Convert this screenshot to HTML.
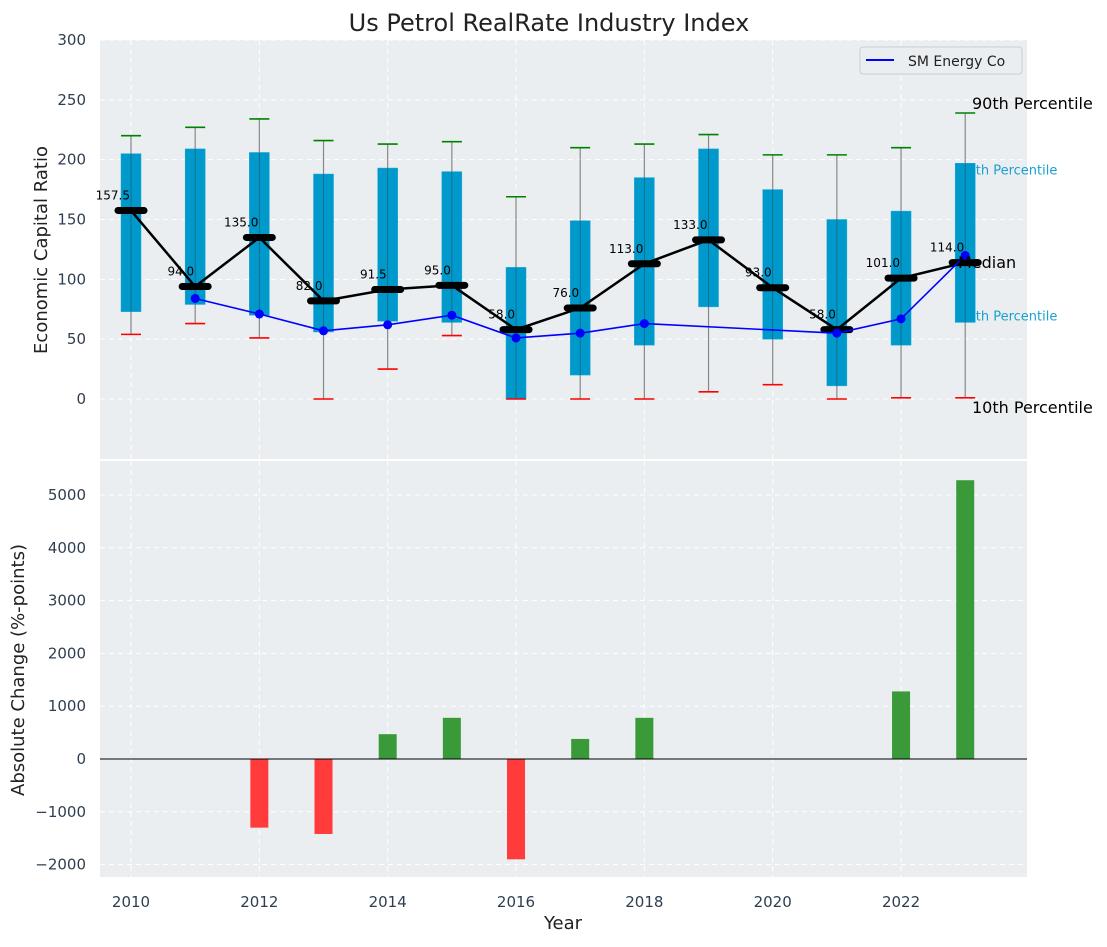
<!DOCTYPE html>
<html><head><meta charset="utf-8"><style>
body{margin:0;background:#fff;font-family:"Liberation Sans","DejaVu Sans",sans-serif;}
text{font-family:"DejaVu Sans","Liberation Sans",sans-serif;}
</style></head><body>
<svg id="chart" width="1107" height="942" xmlns="http://www.w3.org/2000/svg"></svg>
<script>
const years=[2010,2011,2012,2013,2014,2015,2016,2017,2018,2019,2020,2021,2022,2023];
const q3=[205,209,206,188,193,190,110,149,185,209,175,150,157,197];
const q1=[73,79,70,56,65,64,0,20,45,77,50,11,45,64];
const p90=[220,227,234,216,213,215,169,210,213,221,204,204,210,239];
const p10=[54,63,51,0,25,53,0,0,0,6,12,0,1,1];
const medians=[157.5,94,135,82,91.5,95,58,76,113,133,93,58,101,114];
const company=[null,84,71,57,62,70,51,55,63,null,null,55,67,120];
const changes=[0,0,-1300,-1420,470,780,-1900,380,780,0,0,0,1280,5280];
const topTicks=[0,50,100,150,200,250,300];
const botTicks=[-2000,-1000,0,1000,2000,3000,4000,5000];
const xTicks=[2010,2012,2014,2016,2018,2020,2022];

const NS="http://www.w3.org/2000/svg";
const svg=document.getElementById('chart');
function el(tag,attrs,parent){const e=document.createElementNS(NS,tag);for(const k in attrs)e.setAttribute(k,attrs[k]);(parent||svg).appendChild(e);return e;}
const X0=100,X1=1027;
const xs=y=>131+(y-2010)*64.17;
const yT=v=>399-v*1.1967;
const yB=v=>759-v*0.0528;
const TY0=40,TY1=459,BY0=461,BY1=877;

let p=el('rect',{x:X0,y:TY0,width:X1-X0,height:TY1-TY0,fill:'#eaeef0'});

p=el('rect',{x:X0,y:BY0,width:X1-X0,height:BY1-BY0,fill:'#eaeef0'});


topTicks.forEach(t=>{const y=yT(t);
 let g=el('line',{x1:X0,x2:X1,y1:y,y2:y,stroke:'#fff','stroke-dasharray':'5,4','stroke-width':1});
 
 let tx=el('text',{x:86,y:y+5,'text-anchor':'end','font-size':15,fill:'#2e3e50'});tx.textContent=t;
 });
botTicks.forEach(t=>{const y=yB(t);
 let g=el('line',{x1:X0,x2:X1,y1:y,y2:y,stroke:'#fff','stroke-dasharray':'5,4','stroke-width':1});
 
 let tx=el('text',{x:86,y:y+5,'text-anchor':'end','font-size':15,fill:'#2e3e50'});tx.textContent=(t<0?'\u2212'+(-t):t);
 });
xTicks.forEach(t=>{const x=xs(t);
 [[TY0,TY1],[BY0,BY1]].forEach(r=>{let g=el('line',{x1:x,x2:x,y1:r[0],y2:r[1],stroke:'#fff','stroke-dasharray':'5,4','stroke-width':1});
 });
 let tx=el('text',{x:x,y:907,'text-anchor':'middle','font-size':15,fill:'#2e3e50'});tx.textContent=t;
 });

const lx=xs(2023);
function ann(txt,x,y,size,color,name){let t=el('text',{x:x,y:y,'font-size':size,fill:color});t.textContent=txt;
 }
ann('75th Percentile',lx-6,yT(q3[13])+11,13,'#1a9fd0','annotation-75th');
ann('25th Percentile',lx-6,yT(q1[13])-2,13,'#1a9fd0','annotation-25th');

years.forEach((yr,i)=>{const x=xs(yr);
 let w=el('line',{x1:x,x2:x,y1:yT(p10[i]),y2:yT(p90[i]),stroke:'#888','stroke-width':1.2});
 
 let b=el('rect',{x:x-10,y:yT(q3[i]),width:20,height:yT(q1[i])-yT(q3[i]),fill:'#0099cc',stroke:'#20a8d8','stroke-width':0.5});
 
 let w2=el('line',{x1:x,x2:x,y1:yT(q1[i]),y2:yT(q3[i]),stroke:'#333','stroke-width':0.8,opacity:0.5});
 
 let c1=el('line',{x1:x-10,x2:x+10,y1:yT(p90[i]),y2:yT(p90[i]),stroke:'green','stroke-width':1.6});
 
 let c2=el('line',{x1:x-10,x2:x+10,y1:yT(p10[i]),y2:yT(p10[i]),stroke:'red','stroke-width':1.6});
 
});
let ml=el('polyline',{points:years.map((y,i)=>xs(y)+','+yT(medians[i])).join(' '),fill:'none',stroke:'#000','stroke-width':2.5});

years.forEach((yr,i)=>{const x=xs(yr),y=yT(medians[i]);
 let m=el('line',{x1:x-13,x2:x+13,y1:y,y2:y,stroke:'#000','stroke-width':7,'stroke-linecap':'round'});
 
 let t=el('text',{x:x-1,y:y-11,'text-anchor':'end','font-size':12,fill:'#000'});t.textContent=medians[i].toFixed(1);
 });
const pts=[];years.forEach((y,i)=>{if(company[i]!==null)pts.push([xs(y),yT(company[i])]);});
let cl=el('polyline',{points:pts.map(p=>p.join(',')).join(' '),fill:'none',stroke:'#0000ff','stroke-width':1.6});

pts.forEach(p=>{let c=el('circle',{cx:p[0],cy:p[1],r:4.5,fill:'#0000ff'});
 });

ann('90th Percentile',972,109,16,'#000','annotation-90th');
ann('Median',958,268,16,'#000','annotation-median');
ann('10th Percentile',972,413,16,'#000','annotation-10th');

let lg=el('g',{});
el('rect',{x:860,y:47,width:162,height:27,rx:3,fill:'#eaeef0',stroke:'#ccc'},lg);
el('line',{x1:866,x2:894,y1:60,y2:60,stroke:'#0000ff','stroke-width':2},lg);
let lt=el('text',{x:908,y:66,'font-size':14,fill:'#222'},lg);lt.textContent='SM Energy Co';


years.forEach((yr,i)=>{const v=changes[i];if(v===0)return;const x=xs(yr);
 let b=el('rect',{x:x-9,y:Math.min(yB(v),yB(0)),width:18,height:Math.abs(yB(v)-yB(0)),fill:v>0?'#3a9a3a':'#ff3b3b'});
 });
let zl=el('line',{x1:X0,x2:X1,y1:yB(0),y2:yB(0),stroke:'#000','stroke-width':1});


let tt=el('text',{x:549,y:31,'text-anchor':'middle','font-size':24,fill:'#222'});tt.textContent='Us Petrol RealRate Industry Index';

let yl=el('text',{x:0,y:0,'text-anchor':'middle','font-size':18,fill:'#222',transform:'translate(47,250) rotate(-90)'});yl.textContent='Economic Capital Ratio';

let yl2=el('text',{x:0,y:0,'text-anchor':'middle','font-size':18,fill:'#222',transform:'translate(24,670) rotate(-90)'});yl2.textContent='Absolute Change (%-points)';

let xl=el('text',{x:563,y:929,'text-anchor':'middle','font-size':18,fill:'#222'});xl.textContent='Year';

</script>
</body></html>
